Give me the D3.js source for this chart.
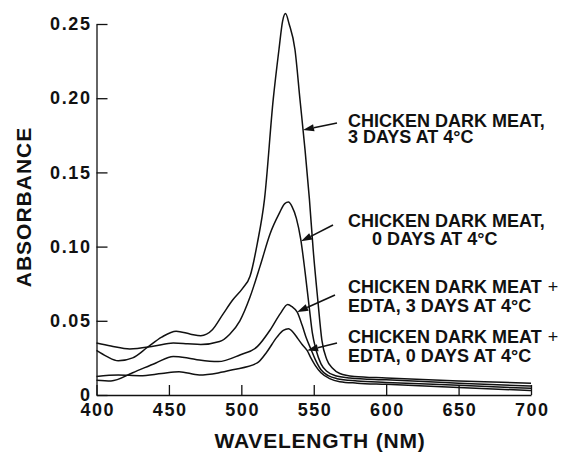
<!DOCTYPE html>
<html>
<head>
<meta charset="utf-8">
<script src="https://cdn.jsdelivr.net/npm/d3@7"></script>
<style>
  body { margin: 0; background: #fff; }
  svg { display: block; font-family: "Liberation Sans", Arial, Helvetica, sans-serif; }
  .tick text { font-size: 18px; font-weight: bold; letter-spacing: 1.6px; fill: #111; }
  .tick line, .domain { stroke: #111; stroke-width: 1.3; }
</style>
</head>
<body>
<svg id="chart" width="561" height="453"></svg>
<script>
// chicken dark meat, 3 days at 4C
const nm3Days = [400, 407, 415, 425, 435, 445, 455, 465, 472, 480, 487, 494, 501, 506, 511, 516, 522, 526, 528.5, 530.5, 533, 537, 540.5, 544, 547, 549.6, 552.8, 555.6, 559, 563, 568, 578, 600, 650, 700];
const abs3Days = [0.030, 0.026, 0.023, 0.025, 0.032, 0.039, 0.043, 0.041, 0.040, 0.044, 0.054, 0.064, 0.072, 0.080, 0.102, 0.132, 0.199, 0.233, 0.252, 0.257, 0.250, 0.233, 0.199, 0.165, 0.132, 0.098, 0.064, 0.037, 0.024, 0.018, 0.0145, 0.0125, 0.0115, 0.0095, 0.008];

// chicken dark meat, 0 days
const nm0Days = [400, 410, 423, 440, 453, 463, 472, 485, 492, 499, 506, 513, 520, 526, 530, 532.5, 535, 538, 541, 544, 547, 549, 551.7, 555, 559, 565, 575, 600, 650, 700];
const abs0Days = [0.035, 0.033, 0.031, 0.033, 0.035, 0.0345, 0.034, 0.036, 0.041, 0.050, 0.066, 0.087, 0.109, 0.122, 0.129, 0.130, 0.127, 0.119, 0.105, 0.083, 0.058, 0.042, 0.030, 0.021, 0.016, 0.013, 0.0115, 0.0102, 0.008, 0.006];

// + EDTA, 3 days
const nmEdta3 = [400, 410, 425, 441, 453, 463, 471, 484, 499, 511, 520, 527, 532, 535, 538.5, 542, 545, 548, 551, 555, 560, 566, 580, 600, 650, 700];
const absEdta3 = [0.010, 0.0095, 0.015, 0.0216, 0.026, 0.025, 0.0236, 0.0225, 0.027, 0.0326, 0.044, 0.055, 0.061, 0.0595, 0.056, 0.047, 0.038, 0.031, 0.024, 0.017, 0.013, 0.011, 0.0095, 0.0085, 0.0065, 0.0045];

// + EDTA, 0 days
const nmEdta0 = [400, 415, 430, 445, 457, 471, 484, 494, 511, 517.6, 524.6, 529, 532.5, 536, 539, 542, 545.4, 548, 551, 555, 561, 568, 580, 600, 650, 700];
const absEdta0 = [0.0125, 0.0135, 0.013, 0.0145, 0.0157, 0.0135, 0.0149, 0.017, 0.0216, 0.029, 0.039, 0.0435, 0.0446, 0.042, 0.038, 0.034, 0.030, 0.025, 0.020, 0.015, 0.011, 0.009, 0.008, 0.0072, 0.005, 0.003];

const xTicks = [400, 450, 500, 550, 600, 650, 700];
const yTicks = [0, 0.05, 0.10, 0.15, 0.20, 0.25];

const labelLine1 = ["CHICKEN DARK MEAT,", "CHICKEN DARK MEAT,", "CHICKEN DARK MEAT", "CHICKEN DARK MEAT"];
const labelLine2 = ["3 DAYS AT 4°C", "0 DAYS AT 4°C", "EDTA, 3 DAYS AT 4°C", "EDTA, 0 DAYS AT 4°C"];
const labelPlus = [false, false, true, true];
const arrowNm = [542.6, 541.2, 538.5, 545.4];

const series = [
  {nm: nm3Days, abs: abs3Days},
  {nm: nm0Days, abs: abs0Days},
  {nm: nmEdta3, abs: absEdta3},
  {nm: nmEdta0, abs: absEdta0}
];

// layout for the annotation text / arrow tails (pixels)
const labelLayout = [
  {x: 348, x2: 348, y1: 127, y2: 143, tail: [337, 123]},
  {x: 348, x2: 372, y1: 227, y2: 245, tail: [333, 225]},
  {x: 348, x2: 348, y1: 293, y2: 312, tail: [335, 295]},
  {x: 348, x2: 348, y1: 343, y2: 362, tail: [337, 343]}
];

const width = 561;
const height = 453;

const x = d3.scaleLinear().domain([400, 700]).range([96.5, 531]);
const y = d3.scaleLinear().domain([0, 0.25]).range([395, 24]);

const svg = d3.select("#chart");

svg.append("g")
  .attr("transform", `translate(0, ${y(0)})`)
  .call(d3.axisBottom(x).tickValues(xTicks).tickSize(-10).tickSizeOuter(0).tickPadding(8))
  .call(g => g.selectAll(".tick text").attr("dx", "0.8px"));

svg.append("g")
  .attr("transform", `translate(${x(400)}, 0)`)
  .call(d3.axisLeft(y).tickValues(yTicks).tickSize(-11).tickSizeOuter(0).tickPadding(5)
    .tickFormat(d => d === 0 ? "0" : d3.format(".2f")(d)));

svg.append("text")
  .attr("x", 320).attr("y", 448)
  .attr("text-anchor", "middle")
  .style("font-size", "21px").style("font-weight", "bold").style("letter-spacing", "0.8px")
  .attr("fill", "#111")
  .text("WAVELENGTH (NM)");

svg.append("text")
  .attr("transform", "translate(31, 207) rotate(-90)")
  .attr("text-anchor", "middle")
  .style("font-size", "21px").style("font-weight", "bold").style("letter-spacing", "1px")
  .attr("fill", "#111")
  .text("ABSORBANCE");

const line = d3.line()
  .x(d => x(d[0]))
  .y(d => y(d[1]))
  .curve(d3.curveMonotoneX);

svg.append("g").selectAll("path")
  .data(series)
  .enter().append("path")
  .attr("d", s => line(s.nm.map((n, i) => [n, s.abs[i]])))
  .attr("fill", "none")
  .attr("stroke", "#111")
  .attr("stroke-width", 1.5);

// annotations
const ann = svg.append("g").attr("fill", "#111")
  .style("font-size", "18px").style("font-weight", "bold");

labelLayout.forEach((p, i) => {
  const t1 = ann.append("text").attr("x", p.x).attr("y", p.y1).text(labelLine1[i]);
  if (labelPlus[i]) {
    t1.append("tspan").attr("dx", 6).style("font-weight", "normal").text("+");
  }
  ann.append("text").attr("x", p.x2).attr("y", p.y2).text(labelLine2[i]);

  const s = series[i];
  const interp = d3.scaleLinear().domain(s.nm).range(s.abs);
  const tx = x(arrowNm[i]);
  const ty = y(interp(arrowNm[i]));
  const [sx, sy] = p.tail;
  const ang = Math.atan2(ty - sy, tx - sx);
  const len = 11, half = 3.6;
  const bx = tx - len * Math.cos(ang), by = ty - len * Math.sin(ang);

  svg.append("line")
    .attr("x1", sx).attr("y1", sy).attr("x2", bx).attr("y2", by)
    .attr("stroke", "#111").attr("stroke-width", 1.6);

  svg.append("path")
    .attr("d", `M${tx},${ty}L${bx + half * Math.sin(ang)},${by - half * Math.cos(ang)}L${bx - half * Math.sin(ang)},${by + half * Math.cos(ang)}Z`)
    .attr("fill", "#111");
});
</script>
</body>
</html>
